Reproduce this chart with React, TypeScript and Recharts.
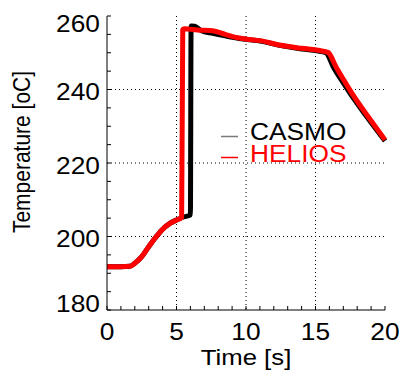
import { LineChart, Line, XAxis, YAxis, CartesianGrid, Legend } from 'recharts';

// time [s] and temperature [oC]
const HELIOS_T = [0, 1.0, 1.65, 2.0, 2.5, 3.0, 3.45, 3.95, 4.5, 5.0, 5.37, 5.45, 5.6, 6.5, 7.6, 8.5, 9.5, 10.3, 11.0, 12.4, 14.0, 15.3, 15.9, 16.5, 17.0, 17.5, 18.0, 19.0, 20.0];
const HELIOS_V = [191.8, 191.8, 191.9, 192.7, 194.5, 197.2, 199.5, 201.8, 203.5, 204.5, 205.2, 256.3, 256.5, 256.2, 256.0, 255.0, 254.0, 253.6, 253.3, 252.1, 251.2, 250.6, 250.1, 246.0, 242.8, 239.7, 236.8, 231.5, 226.3];

const CASMO_T = [0, 1.0, 1.65, 2.0, 2.5, 3.0, 3.45, 3.95, 4.5, 5.0, 5.5, 6.0, 6.05, 6.3, 6.8, 7.6, 8.5, 9.5, 10.3, 11.0, 12.4, 14.0, 15.3, 15.75, 16.3, 17.0, 17.5, 18.0, 19.0, 20.0];
const CASMO_V = [191.8, 191.8, 191.9, 192.7, 194.5, 197.2, 199.5, 201.8, 203.5, 204.5, 205.3, 205.9, 257.3, 257.2, 256.0, 255.3, 254.6, 253.9, 253.5, 253.2, 252.0, 251.0, 250.4, 250.0, 246.0, 241.8, 238.9, 236.2, 231.0, 226.0];

const X_TICKS = [0, 1, 2, 3, 4, 5, 6, 7, 8, 9, 10, 11, 12, 13, 14, 15, 16, 17, 18, 19, 20];
const X_LABELS = [0, 5, 10, 15, 20];
const Y_TICKS = [180, 185, 190, 195, 200, 205, 210, 215, 220, 225, 230, 235, 240, 245, 250, 255, 260];
const Y_LABELS = [180, 200, 220, 240, 260];

const SERIES = [
  { name: 'CASMO', color: '#000000', swatch: '#7a7a7a' },
  { name: 'HELIOS', color: '#ff0000', swatch: '#ff0000' },
];

const FONT = '"Liberation Sans", Arial, sans-serif';
const SX = 1.12; // the picture is a bit wider than tall

const zip = (t: number[], v: number[]) => t.map((x, i) => ({ t: x, v: v[i] }));
const heliosData = zip(HELIOS_T, HELIOS_V);
const casmoData = zip(CASMO_T, CASMO_V);

function BottomTick({ x, y, payload }: any) {
  const v = payload.value;
  return (
    <g>
      <line x1={x} y1={y} x2={x} y2={y - 4} stroke="#000" />
      {X_LABELS.includes(v) && (
        <text transform={`translate(${x},${y + 30}) scale(${SX},1)`} textAnchor="middle" fontSize={23.5} fontFamily={FONT} fill="#000">
          {v}
        </text>
      )}
    </g>
  );
}

function TopTick({ x, y }: any) {
  return <line x1={x} y1={y} x2={x} y2={y + 4} stroke="#000" />;
}

function LeftTick({ x, y, payload }: any) {
  const v = payload.value;
  const dy = v === 260 ? 16 : v === 180 ? 2 : 10.5;
  return (
    <g>
      <line x1={x} y1={y} x2={x + 4} y2={y} stroke="#000" />
      {Y_LABELS.includes(v) && (
        <text transform={`translate(${x - 7},${y + dy}) scale(${SX},1)`} textAnchor="end" fontSize={23.5} fontFamily={FONT} fill="#000">
          {v}
        </text>
      )}
    </g>
  );
}

function RightTick({ x, y }: any) {
  return <line x1={x} y1={y} x2={x - 4} y2={y} stroke="#000" />;
}

function XLabel({ viewBox }: any) {
  const { x, y, width } = viewBox;
  return (
    <text transform={`translate(${x + width / 2},${y + 55}) scale(${SX},1)`} textAnchor="middle" fontSize={23} fontFamily={FONT} fill="#000">
      Time [s]
    </text>
  );
}

function YLabel({ viewBox }: any) {
  const { x, y, height } = viewBox;
  return (
    <text transform={`translate(${x + 30},${y + height / 2 - 11}) scale(${SX},1) rotate(-90)`} textAnchor="middle" fontSize={21} fontFamily={FONT} fill="#000">
      Temperature [oC]
    </text>
  );
}

function renderLegend() {
  return (
    <svg width={150} height={50}>
      {SERIES.map((s, i) => (
        <g key={s.name}>
          <line x1={3} x2={20} y1={18.5 + i * 21} y2={18.5 + i * 21} stroke={s.swatch} strokeWidth={1.5} />
          <text transform={`translate(32,${22 + i * 22.3}) scale(${SX},1)`} fontSize={23.5} fontFamily={FONT} fill={s.color}>
            {s.name}
          </text>
        </g>
      ))}
    </svg>
  );
}

export default function App() {
  return (
    <div style={{ position: 'absolute', left: 0, top: 0, width: 400, height: 376, background: '#fff' }}>
      <LineChart width={400} height={376} margin={{ top: 16, right: 15, bottom: 6, left: 0 }}>
        <CartesianGrid
          xAxisId="b"
          yAxisId="l"
          verticalValues={[5, 10, 15]}
          horizontalValues={[200, 220, 240]}
          stroke="#000"
          strokeDasharray="1 3"
        />
        <XAxis
          xAxisId="b"
          dataKey="t"
          type="number"
          domain={[0, 20]}
          ticks={X_TICKS}
          interval={0}
          tickLine={false}
          tickSize={0}
          tickMargin={0}
          tick={BottomTick}
          axisLine={{ stroke: '#000' }}
          height={60}
          label={<XLabel />}
        />
        <XAxis
          xAxisId="t"
          orientation="top"
          dataKey="t"
          type="number"
          domain={[0, 20]}
          ticks={X_TICKS}
          interval={0}
          tickLine={false}
          tickSize={0}
          tickMargin={0}
          tick={TopTick}
          axisLine={{ stroke: '#000' }}
          height={0}
        />
        <YAxis
          yAxisId="l"
          type="number"
          domain={[180, 260]}
          ticks={Y_TICKS}
          interval={0}
          tickLine={false}
          tickSize={0}
          tickMargin={0}
          tick={LeftTick}
          axisLine={{ stroke: '#000' }}
          width={107}
          label={<YLabel />}
        />
        <YAxis
          yAxisId="r"
          orientation="right"
          type="number"
          domain={[180, 260]}
          ticks={Y_TICKS}
          interval={0}
          tickLine={false}
          tickSize={0}
          tickMargin={0}
          tick={RightTick}
          axisLine={{ stroke: '#000' }}
          width={0}
        />
        <Legend layout="vertical" align="center" verticalAlign="middle" wrapperStyle={{ left: 218, top: 118, width: 150, height: 50 }} content={renderLegend} />
        <Line
          xAxisId="b"
          yAxisId="l"
          data={casmoData}
          dataKey="v"
          name="CASMO"
          type="monotone"
          stroke="#000000"
          strokeWidth={5}
          strokeLinejoin="round"
          dot={false}
          isAnimationActive={false}
        />
        <Line
          xAxisId="b"
          yAxisId="l"
          data={heliosData}
          dataKey="v"
          name="HELIOS"
          type="monotone"
          stroke="#ff0000"
          strokeWidth={5}
          strokeLinejoin="round"
          dot={false}
          isAnimationActive={false}
        />
      </LineChart>
    </div>
  );
}
